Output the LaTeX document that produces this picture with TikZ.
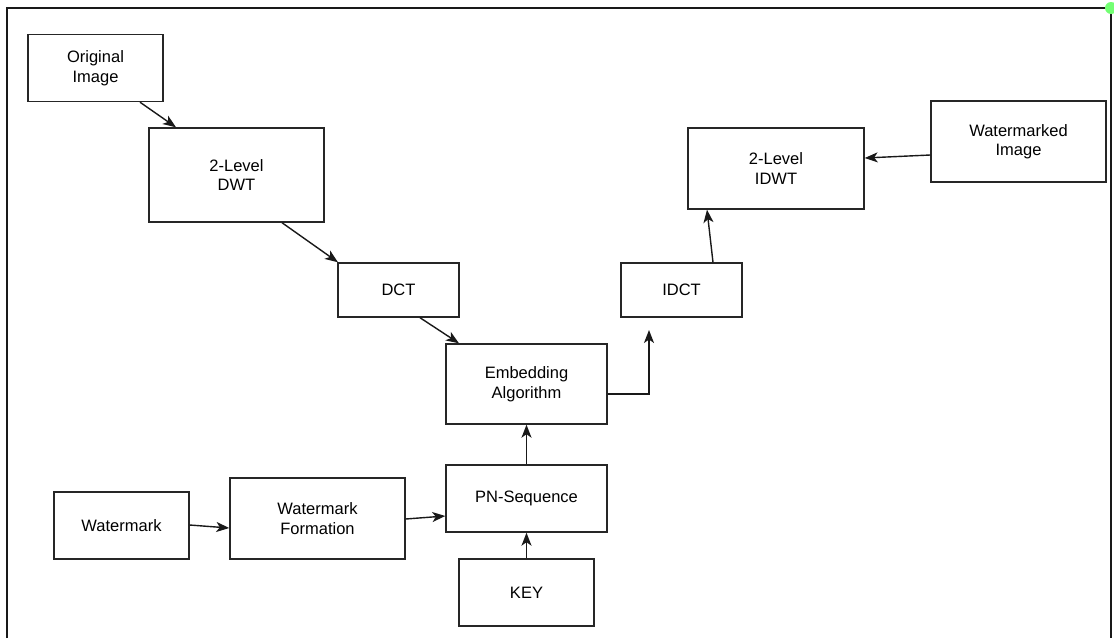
\documentclass[tikz,border=0pt]{standalone}
\usepackage{fontspec}
\setmainfont{Liberation Sans}
\usetikzlibrary{arrows.meta}
\begin{document}
\begin{tikzpicture}[x=1pt,y=-1pt,
  blk/.style={draw=black!85,line width=1.4pt,fill=white,align=center,inner sep=0pt,
    font=\fontsize{16.5}{19.5}\selectfont},
  conn/.style={draw=black!90,line width=1.4pt,-{Stealth[length=13pt,width=10pt,inset=3.5pt]}},
  frame/.style={draw=black!90,line width=1.4pt}]
\useasboundingbox (0,0) rectangle (1114,638);
\draw[frame] (7,638) -- (7,8) -- (1111,8) -- (1111,638);
\fill[green!55!white] (1111,8) circle (6);
\node[blk,minimum width=135pt,minimum height=67pt] (orig) at (95.5,68) {Original\\Image};
\node[blk,minimum width=175pt,minimum height=94pt] (dwt) at (236.5,175) {2-Level\\DWT};
\node[blk,minimum width=121pt,minimum height=54pt] (dct) at (398.5,290) {DCT};
\node[blk,minimum width=161pt,minimum height=80pt] (emb) at (526.5,384) {Embedding\\Algorithm};
\node[blk,minimum width=121pt,minimum height=54pt] (idct) at (681.5,290) {IDCT};
\node[blk,minimum width=176pt,minimum height=81pt] (idwt) at (776,168.5) {2-Level\\IDWT};
\node[blk,minimum width=175pt,minimum height=81pt] (wimg) at (1018.5,141.5) {Watermarked\\Image};
\node[blk,minimum width=135pt,minimum height=67pt] (wm) at (121.5,525.5) {Watermark};
\node[blk,minimum width=175pt,minimum height=81pt] (wmf) at (317.5,518.5) {Watermark\\Formation};
\node[blk,minimum width=161pt,minimum height=67pt] (pn) at (526.5,498.5) {PN-Sequence};
\node[blk,minimum width=135pt,minimum height=67pt] (key) at (526.5,592.5) {KEY};
\coordinate (embout) at (649,330);
\draw[conn] (orig.south -| 140,0) -- (dwt.north -| 176,0);
\draw[conn] (dwt.south -| 282,0) -- (dct.north -| 338,0);
\draw[conn] (dct.south -| 420,0) -- (emb.north -| 459,0);
\draw[conn] (emb.east |- 0,394) -- (649,394) -- (embout);
\draw[conn] (idct.north -| 713,0) -- (idwt.south -| 707,0);
\draw[conn] (wimg.west |- 0,155) -- (idwt.east |- 0,158);
\draw[conn] (wm.east |- 0,525) -- (wmf.west |- 0,528);
\draw[conn] (wmf.east |- 0,519) -- (pn.west |- 0,516);
\draw[conn] (pn.north) -- (emb.south);
\draw[conn] (key.north) -- (pn.south);
\end{tikzpicture}
\end{document}
